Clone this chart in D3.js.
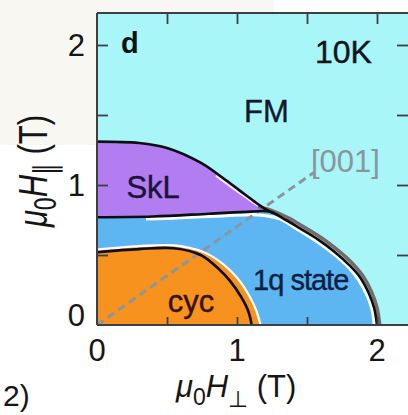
<!DOCTYPE html>
<html>
<head>
<meta charset="utf-8">
<script src="https://cdn.jsdelivr.net/npm/d3@7"></script>
<style>
  html, body { margin: 0; padding: 0; background: #ffffff; }
  svg { display: block; }
  text { font-family: "Liberation Sans", Arial, sans-serif; }
</style>
</head>
<body>
<svg id="chart" width="408" height="415"></svg>
<script>
// Phase diagram at 10 K: in-plane (H⊥) vs out-of-plane (H∥) field, in tesla.
const xTicks = [0.5, 1, 1.5, 2];
const yTicks = [0.5, 1, 1.5, 2];
const xTickLabels = [0, 1, 2];
const yTickLabels = [0, 1, 2];

// Upper edge of the skyrmion lattice pocket
const sklTop = [[0, 1.31], [0.3, 1.30], [0.5, 1.265], [0.74, 1.16], [0.9, 1.05], [1.02, 0.96], [1.12, 0.885], [1.2, 0.83], [1.26, 0.80]];
// Boundary between SkL and the 1q state (nearly flat)
const sklBottom = [[0, 0.77], [0.4, 0.775], [0.8, 0.795], [1.1, 0.81], [1.23, 0.81]];
// Outer edge of the 1q state towards FM
const qOuter = [[1.23, 0.81], [1.35, 0.75], [1.45, 0.69], [1.58, 0.61], [1.70, 0.52], [1.80, 0.43], [1.88, 0.34], [1.94, 0.23], [1.98, 0.12], [2.0, 0.0]];
// Grey trace running just outside the 1q edge
const qOuterGrey = [[1.15, 0.848], [1.25, 0.818], [1.37, 0.765], [1.47, 0.705], [1.60, 0.625], [1.72, 0.535], [1.82, 0.445], [1.90, 0.35], [1.96, 0.24], [2.0, 0.125], [2.02, 0.0]];
// Light rim on the inner side of the 1q edge
const qInnerRim = [[0.35, 0.757], [0.6, 0.766], [0.9, 0.78], [1.15, 0.787], [1.3, 0.76], [1.45, 0.672], [1.58, 0.59], [1.70, 0.50], [1.80, 0.41], [1.87, 0.32], [1.93, 0.21], [1.965, 0.11], [1.98, 0.0]];
// Light rim under the SkL upper edge
const sklRim = [[0.85, 1.065], [1.0, 0.955], [1.1, 0.885], [1.2, 0.82]];
// Cycloidal pocket: filled extent and its black boundary
const cycFill = [[0, 0.53], [0.3, 0.555], [0.55, 0.56], [0.76, 0.512], [0.9, 0.425], [1.0, 0.325], [1.08, 0.205], [1.13, 0.10], [1.16, 0.0]];
const cycLine = [[0, 0.52], [0.3, 0.542], [0.55, 0.548], [0.74, 0.50], [0.87, 0.40], [0.95, 0.315], [1.03, 0.20], [1.08, 0.10], [1.105, 0.0]];
// [001] direction
const dir001 = [[0, 0], [1.55, 1.09]];

const regionLabels = [
  { text: "FM", x: 1.05, y: 1.45, color: "#141a2c" },
  { text: "SkL", x: 0.21, y: 0.91, color: "#1a1238" },
  { text: "1q state", x: 1.115, y: 0.25, color: "#0f2044" },
  { text: "cyc", x: 0.505, y: 0.093, color: "#361206" }
];

const svg = d3.select("#chart");
const W = 408, H = 415;
const plot = { left: 97, right: 410, top: 13, bottom: 325 };

const x = d3.scaleLinear().domain([0, 2]).range([plot.left, 377]);
const y = d3.scaleLinear().domain([0, 2]).range([plot.bottom, 45]);

// page backdrop
svg.append("rect").attr("width", W).attr("height", H).attr("fill", "#ffffff");
svg.append("rect").attr("x", 0).attr("y", 0).attr("width", 274).attr("height", 145).attr("fill", "#f8f7f1");

const clip = svg.append("defs").append("clipPath").attr("id", "plotClip");
clip.append("rect").attr("x", plot.left).attr("y", plot.top)
  .attr("width", plot.right - plot.left).attr("height", plot.bottom - plot.top);

const g = svg.append("g").attr("clip-path", "url(#plotClip)");

// FM background
g.append("rect").attr("x", plot.left).attr("y", plot.top)
  .attr("width", plot.right - plot.left).attr("height", plot.bottom - plot.top)
  .attr("fill", "#a8f6f8");

const curve = d3.line().x(d => x(d[0])).y(d => y(d[1])).curve(d3.curveCatmullRom.alpha(0.5));

// 1q state region
g.append("path").attr("d", curve(sklBottom.concat(qOuter.slice(1))) + "L" + x(0) + "," + y(0) + "Z")
  .attr("fill", "#5db6f1");

// SkL region
g.append("path").attr("d", curve(sklTop) + "L" + curve(sklBottom.slice().reverse()).slice(1) + "Z")
  .attr("fill", "#b17df1");

// light rims
g.append("path").attr("d", curve(qInnerRim)).attr("fill", "none").attr("stroke", "#ffffff").attr("stroke-width", 3.2);
g.append("path").attr("d", curve(sklRim)).attr("fill", "none").attr("stroke", "#f6e6ff").attr("stroke-width", 2);

// cycloidal region with white halo
g.append("path").attr("d", curve(cycFill) + "L" + x(0) + "," + y(0) + "Z")
  .attr("fill", "#f7921e").attr("stroke", "#ffffff").attr("stroke-width", 4.5);
g.append("path").attr("d", curve(cycFill) + "L" + x(0) + "," + y(0) + "Z")
  .attr("fill", "#f7921e");

// [001] dashed direction
g.append("path").attr("d", d3.line().x(d => x(d[0])).y(d => y(d[1]))(dir001))
  .attr("fill", "none").attr("stroke", "#8995a0").attr("stroke-width", 3)
  .attr("stroke-dasharray", "8,5");

// boundaries
g.append("path").attr("d", curve(qOuterGrey)).attr("fill", "none")
  .attr("stroke", "#756a6a").attr("stroke-width", 3.4);
g.append("path").attr("d", curve(sklTop)).attr("fill", "none")
  .attr("stroke", "#0e0e10").attr("stroke-width", 2.6);
g.append("path").attr("d", curve(sklBottom.concat(qOuter.slice(1)))).attr("fill", "none")
  .attr("stroke", "#0e0e10").attr("stroke-width", 2.6);
g.append("path").attr("d", curve(cycLine)).attr("fill", "none")
  .attr("stroke", "#0e0e10").attr("stroke-width", 2.6);

// frame and inward ticks
const axisColor = "#3c3f44";
const frame = svg.append("g");
frame.append("line").attr("x1", plot.left).attr("x2", plot.right).attr("y1", plot.top).attr("y2", plot.top)
  .attr("stroke", axisColor).attr("stroke-width", 2);
frame.append("line").attr("x1", plot.left).attr("x2", plot.right).attr("y1", plot.bottom).attr("y2", plot.bottom)
  .attr("stroke", axisColor).attr("stroke-width", 2);
frame.append("line").attr("x1", plot.left).attr("x2", plot.left).attr("y1", plot.top).attr("y2", plot.bottom)
  .attr("stroke", axisColor).attr("stroke-width", 2);

function styleAxis(sel) {
  sel.select(".domain").remove();
  sel.selectAll(".tick line").attr("stroke", axisColor).attr("stroke-width", 1.8);
  sel.selectAll(".tick text").remove();
}
svg.append("g").attr("transform", `translate(0,${plot.bottom})`)
  .call(d3.axisBottom(x).tickValues(xTicks).tickSize(-8).tickFormat("")).call(styleAxis);
svg.append("g").attr("transform", `translate(0,${plot.top})`)
  .call(d3.axisTop(x).tickValues(xTicks).tickSize(-11).tickFormat("")).call(styleAxis);
svg.append("g").attr("transform", `translate(${plot.left},0)`)
  .call(d3.axisLeft(y).tickValues(yTicks).tickSize(-11).tickFormat("")).call(styleAxis);
svg.append("g").attr("transform", `translate(${plot.right},0)`)
  .call(d3.axisRight(y).tickValues(yTicks).tickSize(-13).tickFormat("")).call(styleAxis);

// tick labels
const tickFont = 31;
svg.selectAll(".xl").data(xTickLabels).enter().append("text")
  .attr("x", d => x(d)).attr("y", 361)
  .attr("text-anchor", "middle").attr("font-size", tickFont).attr("fill", "#161616")
  .text(d => d);
svg.selectAll(".yl").data(yTickLabels).enter().append("text")
  .attr("x", 85).attr("y", d => Math.min(y(d), y(0) - 10) + 11)
  .attr("text-anchor", "end").attr("font-size", tickFont).attr("fill", "#161616")
  .text(d => d);

// panel letter and temperature
svg.append("text").attr("x", 121).attr("y", 53).attr("font-size", 29).attr("font-weight", "bold")
  .attr("fill", "#111111").text("d");
svg.append("text").attr("x", 315).attr("y", 63).attr("font-size", 32).attr("fill", "#10141c")
  .attr("stroke", "#10141c").attr("stroke-width", 0.4).text("10K");

// region labels
svg.selectAll(".rl").data(regionLabels).enter().append("text")
  .attr("x", d => x(d.x)).attr("y", d => y(d.y))
  .attr("font-size", d => d.text === "1q state" ? 29 : 31)
  .attr("letter-spacing", d => d.text === "1q state" ? -1 : 0)
  .attr("fill", d => d.color).attr("stroke", d => d.color).attr("stroke-width", 0.4)
  .text(d => d.text);

svg.append("text").attr("x", 311).attr("y", 172).attr("font-size", 31).attr("fill", "#8a959c").text("[001]");

// axis titles
const xt = svg.append("text").attr("x", 176).attr("y", 397).attr("font-size", 31).attr("fill", "#161616");
xt.append("tspan").attr("font-style", "italic").text("μ");
xt.append("tspan").attr("font-size", 23).attr("dy", 8).text("0");
xt.append("tspan").attr("font-style", "italic").attr("dy", -8).text("H");
xt.append("tspan").attr("font-size", 23).attr("dy", 10).text("⊥");
xt.append("tspan").attr("dy", -10).text(" (T)");

const yt = svg.append("text").attr("transform", "translate(47,171) rotate(-90) scale(1,1.33)")
  .attr("text-anchor", "middle").attr("font-size", 31).attr("fill", "#161616");
yt.append("tspan").attr("font-style", "italic").text("μ");
yt.append("tspan").attr("font-size", 23).attr("dy", 7).text("0");
yt.append("tspan").attr("font-style", "italic").attr("dy", -7).text("H");
yt.append("tspan").attr("font-size", 23).attr("dy", 7).text("∥");
yt.append("tspan").attr("dy", -7).text(" (T)");

// sub-figure marker at lower left
svg.append("text").attr("x", 3).attr("y", 406).attr("font-size", 30).attr("fill", "#161616").text("2)");
</script>
</body>
</html>
